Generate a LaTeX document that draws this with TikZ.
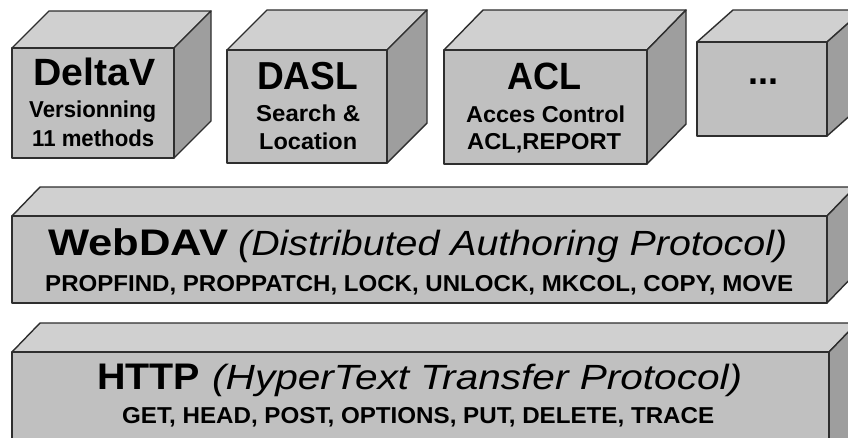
\documentclass[tikz,border=0pt]{standalone}
\usepackage{fontspec}
\setmainfont{Liberation Sans}
\usepackage{graphicx}

\definecolor{facefront}{HTML}{C0C0C0}
\definecolor{facetop}{HTML}{D0D0D0}
\definecolor{faceside}{HTML}{9E9E9E}
\definecolor{edgegray}{HTML}{2E2E2E}

% 3-D block: front top-left (#1,#2), front bottom-right (#3,#4), depth (#5,#6)
\newcommand{\block}[6]{%
  \filldraw[fill=facetop,draw=edgegray,line width=1.4pt,line join=round]
    (#1,#2) -- ({#1+#5},{#2-#6}) -- ({#3+#5},{#2-#6}) -- (#3,#2) -- cycle;
  \filldraw[fill=faceside,draw=edgegray,line width=1.4pt,line join=round]
    (#3,#2) -- ({#3+#5},{#2-#6}) -- ({#3+#5},{#4-#6}) -- (#3,#4) -- cycle;
  \filldraw[fill=facefront,draw=edgegray,line width=1.4pt,line join=round]
    (#1,#2) rectangle (#3,#4);
}
% text line stretched to a given width (pt) at a given size (pt)
\newcommand{\fitted}[3]{\resizebox{#1pt}{\height}{\fontsize{#2}{#2}\selectfont #3}}

\begin{document}
\begin{tikzpicture}[x=1pt,y=-1pt,
  txt/.style={inner sep=0pt,anchor=base west,text=black}]
\useasboundingbox (0,0) rectangle (848,437);
\fill[white] (0,0) rectangle (848,437);
\clip (0,0) rectangle (848,437);

% extension blocks
\block{12}{48}{174}{158}{37}{37}
\block{227}{50}{387}{163}{40}{40}
\block{444}{50}{647}{164}{39}{40}
\block{697}{42}{827}{136}{36}{32}

% protocol layers
\block{12}{216}{827}{303}{28}{29}
\block{12}{352}{829}{460}{28}{29}

% block labels
\node[txt] (deltav) at (33,85) {\fitted{122}{38}{\bfseries DeltaV}};
\node[txt] (deltavA) at (29,117) {\fitted{127}{23}{\bfseries Versionning}};
\node[txt] (deltavB) at (32,146) {\fitted{122}{23}{\bfseries 11 methods}};

\node[txt] (dasl) at (257,89) {\fitted{101}{39}{\bfseries DASL}};
\node[txt] (daslA) at (256,121) {\fitted{104}{23}{\bfseries Search \&}};
\node[txt] (daslB) at (259,149) {\fitted{98}{23}{\bfseries Location}};

\node[txt] (acl) at (507,89) {\fitted{74}{38}{\bfseries ACL}};
\node[txt] (aclA) at (466,122) {\fitted{159}{23}{\bfseries Acces Control}};
\node[txt] (aclB) at (467,149) {\fitted{154}{23}{\bfseries ACL,REPORT}};

\node[txt] (more) at (748,84) {\fitted{30}{38}{\bfseries ...}};

% layer labels
\node[txt] (webdav) at (48,255) {\fitted{180}{37}{\bfseries WebDAV}};
\node[txt] (webdavlong) at (238,255) {\fitted{549}{35}{\itshape (Distributed Authoring Protocol)}};
\node[txt] (webdavm) at (45,291) {\fitted{748}{23}{\bfseries PROPFIND, PROPPATCH, LOCK, UNLOCK, MKCOL, COPY, MOVE}};

\node[txt] (http) at (97,389) {\fitted{103}{37}{\bfseries HTTP}};
\node[txt] (httplong) at (212,389) {\fitted{530}{35}{\itshape (HyperText Transfer Protocol)}};
\node[txt] (httpm) at (122,423) {\fitted{592}{23}{\bfseries GET, HEAD, POST, OPTIONS, PUT, DELETE, TRACE}};
\end{tikzpicture}
\end{document}
